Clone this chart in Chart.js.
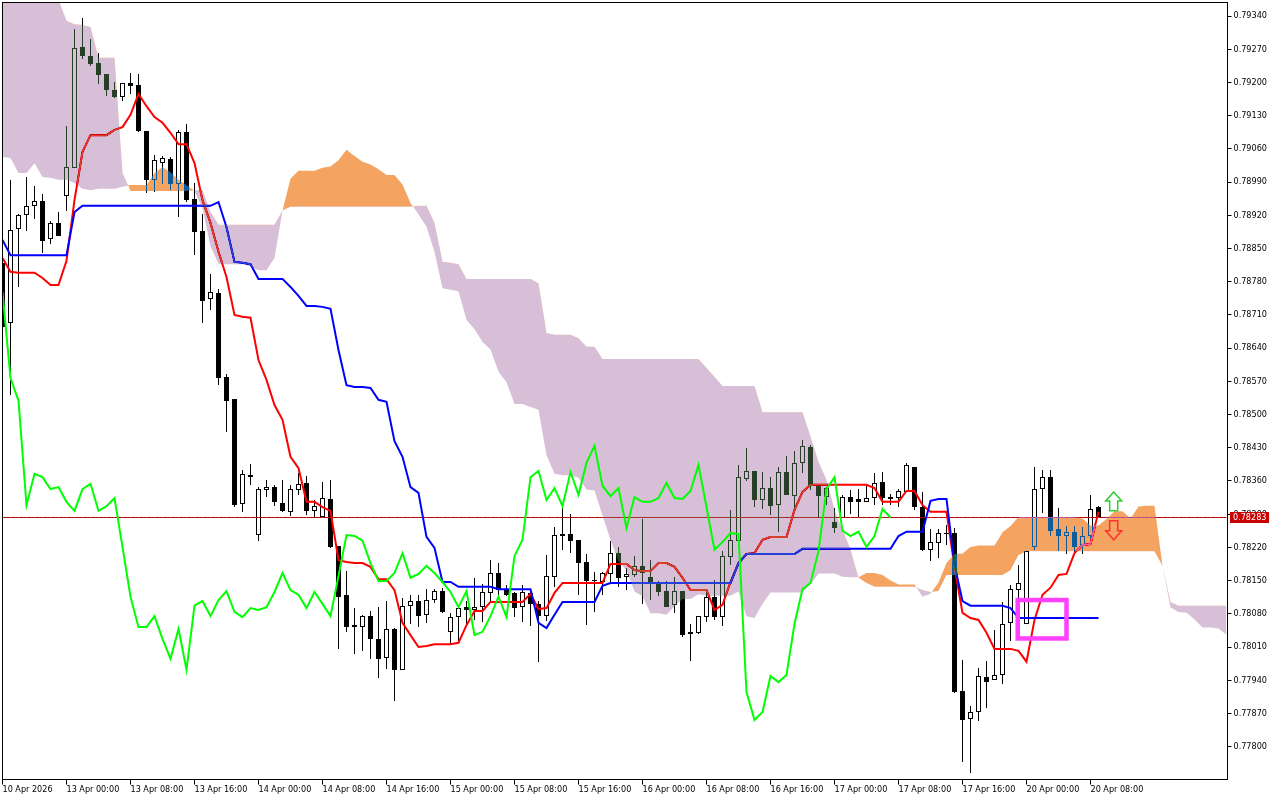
<!DOCTYPE html>
<html>
<head>
<meta charset="utf-8">
<style>
html, body { margin: 0; padding: 0; background: #fff; }
canvas { display: block; }
</style>
<script src="https://cdn.jsdelivr.net/npm/chart.js@4/dist/chart.umd.min.js"></script>
</head>
<body>
<canvas id="chart" width="1280" height="800"></canvas>
<script>
// all prices are in points, 78283 = 0.78283
var tickLabels = ['10 Apr 2026','13 Apr 00:00','13 Apr 08:00','13 Apr 16:00','14 Apr 00:00','14 Apr 08:00','14 Apr 16:00',
    '15 Apr 00:00','15 Apr 08:00','15 Apr 16:00','16 Apr 00:00','16 Apr 08:00','16 Apr 16:00','17 Apr 00:00','17 Apr 08:00',
    '17 Apr 16:00','20 Apr 00:00','20 Apr 08:00']
var priceTicks = [79340,79270,79200,79130,79060,78990,78920,78850,78780,78710,78640,78570,78500,78430,78360,78290,78220,78150,78080,78010,77940,77870,77800]
var currentPrice = 78283

var opens = [78820,78693,78891,78921,78940,78950,78870,78904,78961,79020,
    79275,79256,79241,79218,79184,79170,79199,79195,79098,78995,
    79030,79039,78986,79096,78955,78887,78744,78756,78579,78533,
    78312,78373,78246,78341,78347,78314,78295,78341,78356,78297,
    78284,78322,78223,78120,78056,78052,78075,78027,77987,78048,
    77962,78097,78107,78078,78109,78128,78042,78073,78094,78088,
    78094,78124,78166,78130,78124,78094,78124,78101,78075,78158,
    78248,78248,78236,78189,78151,78147,78164,78208,78158,78162,
    78181,78158,78145,78128,78099,78128,78037,78040,78073,78116,
    78073,78200,78234,78364,78381,78320,78345,78309,78379,78328,
    78398,78432,78350,78326,78274,78282,78326,78322,78316,78324,
    78358,78326,78324,78337,78390,78305,78215,78229,78250,78250,
    77917,77858,77873,77947,77941,77951,78061,78130,78059,78221,
    78343,78368,78259,78244,78253,78223,78244,78305]
var highs = [78822,78995,78923,79001,78982,78965,78908,78927,79108,79313,
    79336,79292,79262,79218,79201,79199,79220,79218,79098,79047,
    79045,79043,79100,79113,78988,78923,78796,78765,78586,78533,
    78383,78396,78347,78362,78352,78362,78352,78377,78371,78320,
    78358,78362,78223,78170,78092,78078,78086,78094,78107,78050,
    78113,78120,78120,78132,78132,78135,78082,78097,78107,78156,
    78143,78193,78187,78141,78126,78141,78130,78107,78204,78263,
    78307,78291,78236,78206,78168,78168,78234,78221,78177,78202,
    78280,78193,78149,78149,78158,78128,78059,78075,78130,78151,
    78212,78299,78394,78430,78381,78379,78368,78390,78413,78423,
    78446,78436,78350,78347,78303,78331,78341,78343,78350,78377,
    78379,78333,78343,78398,78390,78337,78259,78259,78267,78261,
    77983,77886,77966,77981,78046,78105,78141,78183,78212,78390,
    78383,78383,78303,78265,78265,78263,78331,78307]
var lows = [78683,78541,78769,78887,78912,78841,78860,78877,78929,79020,
    79250,79235,79197,79172,79167,79161,79176,79096,78967,78969,
    78986,78973,78917,78948,78836,78693,78721,78562,78463,78305,
    78295,78352,78234,78326,78307,78295,78286,78331,78288,78282,
    78284,78219,78006,78042,77995,78002,77985,77945,77964,77896,
    77962,78059,78052,78061,78103,78082,78016,78019,78054,78067,
    78063,78105,78118,78118,78073,78063,78054,77979,78065,78137,
    78215,78208,78120,78056,78084,78120,78143,78137,78130,78158,
    78101,78109,78118,78094,78082,78031,77981,78037,78063,78067,
    78054,78183,78234,78360,78305,78301,78288,78253,78331,78293,
    78377,78341,78284,78309,78250,78282,78291,78284,78316,78309,
    78309,78309,78305,78337,78299,78212,78191,78198,78225,77913,
    77768,77745,77854,77881,77941,77932,78023,78109,78059,78215,
    78293,78244,78212,78206,78210,78206,78238,78284]
var closes = [78685,78889,78921,78940,78950,78866,78904,78877,79022,79273,
    79256,79239,79216,79184,79170,79199,79193,79098,78995,79037,
    79041,78986,79096,78952,78885,78739,78758,78577,78529,78309,
    78375,78368,78343,78347,78316,78297,78343,78354,78297,78307,
    78324,78221,78116,78052,78052,78075,78027,77985,78048,77962,
    78097,78107,78075,78109,78128,78084,78073,78092,78088,78094,
    78126,78166,78130,78120,78092,78126,78101,78075,78160,78246,
    78244,78234,78187,78149,78149,78166,78208,78156,78164,78181,
    78166,78147,78126,78094,78128,78035,78042,78075,78116,78073,
    78202,78236,78368,78381,78320,78345,78307,78379,78331,78398,
    78434,78350,78328,78345,78261,78326,78316,78316,78324,78356,
    78324,78322,78339,78394,78305,78215,78231,78250,78248,77915,
    77856,77873,77949,77936,77951,78059,78132,78145,78212,78343,
    78368,78255,78244,78253,78221,78244,78301,78283]

var tenkan = [78830,78801,78799,78799,78799,78788,78773,78773,78824,78952,
    79054,79089,79089,79089,79100,79106,79132,79176,79150,79127,
    79115,79094,79070,79070,79030,78952,78904,78843,78790,78710,
    78706,78704,78615,78573,78520,78489,78411,78387,78316,78316,
    78305,78297,78193,78189,78187,78187,78179,78153,78153,78130,
    78061,78035,78010,78012,78016,78016,78016,78019,78056,78086,
    78086,78105,78105,78105,78105,78105,78122,78090,78092,78124,
    78145,78145,78145,78145,78145,78145,78185,78185,78185,78172,
    78170,78170,78187,78187,78179,78156,78130,78130,78130,78088,
    78099,78147,78187,78206,78208,78236,78242,78242,78242,78299,
    78337,78352,78352,78352,78352,78352,78352,78352,78352,78345,
    78316,78316,78316,78339,78339,78309,78295,78295,78295,78179,
    78082,78071,78067,78040,78006,78006,78006,78002,77979,78067,
    78120,78135,78162,78164,78208,78225,78227,78295]
var kijun = [78868,78836,78836,78836,78836,78836,78836,78836,78836,78927,
    78940,78940,78940,78940,78940,78940,78940,78940,78940,78940,
    78940,78940,78940,78940,78940,78940,78940,78948,78895,78822,
    78820,78817,78786,78786,78786,78786,78769,78750,78729,78729,
    78727,78723,78636,78562,78558,78558,78556,78531,78527,78444,
    78411,78347,78335,78242,78219,78147,78147,78137,78137,78137,
    78137,78137,78132,78132,78132,78132,78132,78061,78050,78078,
    78105,78105,78105,78105,78105,78139,78145,78145,78145,78145,
    78145,78145,78145,78145,78145,78145,78145,78145,78145,78145,
    78145,78145,78187,78206,78206,78206,78206,78206,78206,78206,
    78217,78217,78217,78217,78217,78217,78217,78217,78217,78217,
    78217,78217,78244,78253,78253,78253,78318,78322,78322,78183,
    78107,78097,78097,78097,78097,78097,78092,78071,78071,78071,
    78071,78071,78071,78071,78071,78071,78071,78071]
var chikou = [78758,78577,78529,78309,78375,78368,78343,78347,78316,78297,
    78343,78354,78297,78307,78324,78221,78116,78052,78052,78075,
    78027,77985,78048,77962,78097,78107,78075,78109,78128,78084,
    78073,78092,78088,78094,78126,78166,78130,78120,78092,78126,
    78101,78075,78160,78246,78244,78234,78187,78149,78149,78166,
    78208,78156,78164,78181,78166,78147,78126,78094,78128,78035,
    78042,78075,78116,78073,78202,78236,78368,78381,78320,78345,
    78307,78379,78331,78398,78434,78350,78328,78345,78261,78326,
    78316,78316,78324,78356,78324,78322,78339,78394,78305,78215,
    78231,78250,78248,77915,77856,77873,77949,77936,77951,78059,
    78132,78145,78212,78343,78368,78255,78244,78253,78221,78244,
    78301,78283]
var spanA = [79043,79041,79009,79009,79030,79001,78999,78995,78995,78988,
    78976,78973,78976,78976,78976,78980,78984,78984,78984,79009,
    79022,79011,78995,78984,78971,78935,78855,78818,78817,78817,
    78817,78812,78804,78804,78830,78930,78997,79014,79014,79014,
    79020,79023,79036,79058,79045,79033,79027,79017,79005,79005,
    78985,78946,78922,78896,78843,78766,78763,78760,78700,78680,
    78653,78637,78590,78568,78522,78522,78516,78510,78414,78375,
    78372,78372,78367,78342,78340,78287,78236,78191,78172,78127,
    78117,78081,78081,78078,78096,78111,78111,78121,78118,78118,
    78118,78118,78127,78075,78071,78101,78125,78125,78125,78125,
    78125,78142,78165,78165,78165,78158,78157,78157,78166,78166,
    78162,78150,78142,78142,78142,78116,78122,78146,78187,78206,
    78207,78221,78224,78224,78224,78252,78265,78284,78284,78284,
    78284,78284,78284,78284,78284,78281,78266,78266,78280,78296,
    78296,78281,78306,78308,78308,78181,78094,78084,78082,78068,
    78051,78051,78049,78036]
var spanB = [79400,79400,79400,79400,79400,79400,79400,79374,79330,79323,
    79321,79317,79252,79252,79252,79009,78971,78971,78971,78971,
    78971,78971,78971,78971,78973,78973,78927,78900,78900,78900,
    78900,78900,78900,78900,78900,78930,78938,78938,78938,78938,
    78938,78938,78938,78938,78938,78938,78938,78938,78938,78938,
    78938,78938,78940,78940,78904,78822,78820,78817,78786,78786,
    78786,78786,78786,78786,78786,78786,78786,78777,78672,78668,
    78668,78668,78661,78643,78643,78617,78617,78617,78617,78617,
    78617,78617,78617,78617,78617,78617,78617,78617,78598,78579,
    78560,78560,78560,78560,78560,78505,78505,78505,78505,78505,
    78505,78453,78400,78362,78299,78257,78215,78156,78145,78137,
    78137,78137,78137,78137,78137,78130,78126,78128,78162,78162,
    78162,78162,78162,78162,78162,78162,78172,78204,78212,78212,
    78212,78212,78212,78212,78212,78212,78212,78212,78212,78212,
    78212,78212,78212,78212,78212,78181,78105,78097,78097,78097,
    78097,78097,78097,78097]

// drawn objects on the chart: [bar index, price]
var boxFrom = [126.9, 78109]
var boxTo = [133, 78028]
var arrowUp = [138.9, 78337, 78297]
var arrowDown = [138.9, 78236, 78276]

var labels = []
for (var n = 0; n < spanA.length; n++) labels.push(n % 8 == 0 && tickLabels[n / 8] ? tickLabels[n / 8] : '')

var font = { family: '"DejaVu Sans Condensed", "Liberation Sans"', size: 9 }

// snap the candles to whole pixels, MT5 draws them without any smoothing
var snapBars = {
    id: 'snapBars',
    afterDatasetsUpdate: function(chart) {
        chart.getSortedVisibleDatasetMetas().forEach(function(meta) {
            if (meta.type != 'bar') return
            meta.data.forEach(function(el) {
                var top = Math.round(Math.min(el.y, el.base))
                var bot = Math.round(Math.max(el.y, el.base))
                if (bot <= top) bot = top + 1
                el.y = top
                el.base = bot
                el.height = bot - top
            })
        })
    }
}

// the terminal xors its cloud over whatever is already there, 'difference' with the inverted colour does the same
var cloudBlend = {
    id: 'cloudBlend',
    beforeDraw: function(chart) {
        var ctx = chart.ctx
        ctx.save()
        ctx.fillStyle = '#fff'
        ctx.fillRect(0, 0, chart.width, chart.height)
        ctx.restore()
    },
    afterDatasetDraw: function(chart, args) {
        var label = chart.data.datasets[args.index].label
        if (label == 'Kijun') chart.ctx.globalCompositeOperation = 'difference'
        if (label == 'Span A') chart.ctx.globalCompositeOperation = 'source-over'
    }
}

function arrow(ctx, x, tip, tail) {
    var dir = tail > tip ? 1 : -1
    var head = tip + dir * 9
    ctx.beginPath()
    ctx.moveTo(x, tip)
    ctx.lineTo(x + 8, head)
    ctx.lineTo(x + 4, head)
    ctx.lineTo(x + 4, tail)
    ctx.lineTo(x - 4, tail)
    ctx.lineTo(x - 4, head)
    ctx.lineTo(x - 8, head)
    ctx.closePath()
    ctx.stroke()
}

var overlays = {
    id: 'overlays',
    afterDraw: function(chart) {
        var ctx = chart.ctx, xs = chart.scales.x, ys = chart.scales.y, area = chart.chartArea
        ctx.save()

        ctx.strokeStyle = '#000'
        ctx.lineWidth = 1
        ctx.strokeRect(2.5, 2.5, area.right + 1 - 2.5, area.bottom - 2.5)

        var bx = xs.getPixelForValue(boxFrom[0]), by = ys.getPixelForValue(boxFrom[1])
        ctx.strokeStyle = '#ff40ff'
        ctx.lineWidth = 4.5
        ctx.strokeRect(bx, by, xs.getPixelForValue(boxTo[0]) - bx, ys.getPixelForValue(boxTo[1]) - by)

        ctx.lineWidth = 1.5
        ctx.strokeStyle = '#32cd32'
        arrow(ctx, xs.getPixelForValue(arrowUp[0]), ys.getPixelForValue(arrowUp[1]), ys.getPixelForValue(arrowUp[2]))
        ctx.strokeStyle = '#ff3030'
        arrow(ctx, xs.getPixelForValue(arrowDown[0]), ys.getPixelForValue(arrowDown[1]), ys.getPixelForValue(arrowDown[2]))

        var py = Math.floor(ys.getPixelForValue(currentPrice))
        ctx.fillStyle = '#c80000'
        ctx.fillRect(1230, py - 5, 39, 11)
        ctx.fillStyle = '#fff'
        ctx.font = '9px "DejaVu Sans Condensed", "Liberation Sans"'
        ctx.textBaseline = 'middle'
        ctx.fillText((currentPrice / 1e5).toFixed(5), 1233, py + 1)
        ctx.restore()
    }
}

new Chart(document.getElementById('chart'), {
    type: 'bar',
    plugins: [snapBars, cloudBlend, overlays],
    data: {
        labels: labels,
        datasets: [
            {
                label: 'Wicks', order: 9, grouped: false, barThickness: 1, inflateAmount: 0, borderWidth: 0,
                backgroundColor: '#000',
                data: lows.map(function(l, i) { return [l, highs[i]] })
            },
            {
                label: 'Bodies', order: 8, grouped: false, barThickness: 5, inflateAmount: 0, borderWidth: 1, borderSkipped: false,
                borderColor: '#000',
                backgroundColor: opens.map(function(o, i) { return closes[i] >= o ? '#fff' : '#000' }),
                data: opens.map(function(o, i) { return [o, closes[i]] })
            },
            {
                type: 'line', label: 'Price', order: 7, borderColor: '#c00000', borderWidth: 1, pointRadius: 0,
                data: labels.map(function() { return currentPrice })
            },
            { type: 'line', label: 'Tenkan', order: 6, borderColor: '#ff0000', borderWidth: 2, pointRadius: 0, data: tenkan },
            { type: 'line', label: 'Kijun', order: 5, borderColor: '#0000ff', borderWidth: 2, pointRadius: 0, data: kijun },
            {
                type: 'line', label: 'Span A', order: 4, borderColor: 'transparent', borderWidth: 1, pointRadius: 0,
                fill: { target: '+1', above: '#0b5b9f', below: '#274027' },
                data: spanA
            },
            { type: 'line', label: 'Span B', order: 3, borderColor: 'transparent', borderWidth: 1, pointRadius: 0, data: spanB },
            { type: 'line', label: 'Chikou', order: 2, borderColor: '#00ff00', borderWidth: 2, pointRadius: 0, data: chikou }
        ]
    },
    options: {
        responsive: false,
        animation: false,
        layout: { padding: { left: 2.5, top: 2.5, right: 0, bottom: 0 } },
        plugins: { legend: { display: false }, tooltip: { enabled: false } },
        scales: {
            x: {
                offset: false,
                grid: { drawOnChartArea: false, tickLength: 5, tickColor: '#000', offset: false },
                border: { display: false },
                ticks: { autoSkip: false, maxRotation: 0, align: 'start', padding: 0, color: '#000', font: font },
                afterBuildTicks: function(s) {
                    s.ticks = s.ticks.filter(function(t) { return t.value % 8 == 0 && t.value <= 136 })
                },
                afterFit: function(s) {
                    s.height = 20.5
                    s.paddingLeft = 0
                    s.paddingRight = 0
                }
            },
            y: {
                position: 'right',
                min: 77730.7,
                max: 79368.6,
                grid: { drawOnChartArea: false, tickLength: 5, tickColor: '#000' },
                border: { display: false },
                ticks: {
                    padding: 2,
                    color: '#000',
                    font: font,
                    callback: function(v) { return (v / 1e5).toFixed(5) }
                },
                afterBuildTicks: function(s) {
                    s.ticks = priceTicks.map(function(v) { return { value: v } })
                },
                afterFit: function(s) {
                    s.width = 53.5
                    s.paddingTop = 0
                    s.paddingBottom = 0
                }
            }
        }
    }
})
</script>
</body>
</html>
